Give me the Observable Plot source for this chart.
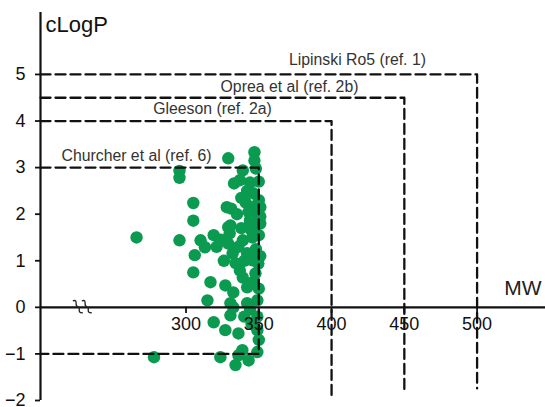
<!DOCTYPE html>
<html>
<head>
<meta charset="utf-8">
<script src="https://cdn.jsdelivr.net/npm/d3@7"></script>
<script src="https://cdn.jsdelivr.net/npm/@observablehq/plot@0.6"></script>
<style>
  html, body { margin: 0; padding: 0; background: #fff; }
</style>
</head>
<body>
<div id="chart"></div>
<script>
// Compound data: molecular weight and cLogP
const mw = [
  266, 278, 295.5, 295.5, 295.5, 305, 305, 305, 306, 310, 313, 314.7, 316.8, 319, 319, 323.6,
  329, 347, 347, 348, 339, 333, 337, 344, 346, 328, 331, 341, 345.6, 347.7, 351, 350,
  330.5, 329, 330, 344, 344, 345, 339, 345.6, 329, 332, 342, 345.6, 349.7, 348, 350, 351,
  327, 332.5, 330.5, 339, 342, 346, 342, 349, 337, 347.7, 350, 351, 326, 334, 340, 336,
  338, 335, 343, 342, 338, 350, 351, 324, 321,
  330.5, 332.5, 327, 336, 349, 349, 338.7, 336, 343, 334, 344, 349, 350, 345, 340
];
const clogp = [
  1.50, -1.07, 2.93, 2.78, 1.44, 2.24, 1.86, 0.75, 1.12, 1.44, 1.29, 0.15, 0.54, 1.55, -0.32, -1.07,
  3.20, 3.33, 3.15, 2.98, 2.94, 2.66, 2.73, 2.68, 2.45, 2.15, 2.12, 2.25, 2.15, 2.00, 2.15, 2.30,
  1.76, 1.72, 1.59, 1.87, 1.80, 1.65, 1.44, 1.50, 1.37, 1.16, 1.16, 1.01, 0.94, 1.25, 1.55, 1.80,
  0.47, 0.32, 0.09, 0.64, 0.43, 0.54, 0.09, 0.15, 0.79, 0.73, 0.40, 1.10, 1.00, 0.95, 1.00, 1.30,
  1.70, 2.00, 2.05, 2.50, 2.35, 2.70, 1.95, 1.45, 1.30,
  -0.17, 0.00, -0.49, -0.56, -0.49, -0.96, -0.92, -1.03, -1.14, -1.24, -0.05, -0.20, -0.70, -0.35, -0.20
];

// Property rule boxes
const ruleNames = ["Lipinski Ro5 (ref. 1)", "Oprea et al (ref. 2b)", "Gleeson (ref. 2a)", "Churcher et al (ref. 6)"];
const ruleMW = [500, 450, 400, 350];
const ruleLogP = [5, 4.5, 4, 3];
const ruleLow = [-1.74, -1.85, -1.97, -1];
const labelMW = [417.8, 371.1, 318.2, 266.0];
const labelLogP = [5.32, 4.74, 4.25, 3.24];

const xTicks = [300, 350, 400, 450, 500];
const yTicks = [-2, -1, 0, 1, 2, 3, 4, 5];

const xMin = 200, xMax = 547, yMin = -2, yMax = 6.33;

// Build rule paths
const rulePts = [];
ruleNames.forEach((name, i) => {
  rulePts.push({name, x: xMin, y: ruleLogP[i]});
  rulePts.push({name, x: ruleMW[i], y: ruleLogP[i]});
  rulePts.push({name, x: ruleMW[i], y: ruleLow[i]});
  if (ruleLow[i] > -1.5) rulePts.push({name, x: xMin, y: ruleLow[i]});
});

const font = "'Liberation Sans', Arial, Helvetica, sans-serif";

// axis break symbol (drawn via scales)
const breakMark = (index, scales, values, dimensions) => {
  const g = d3.create("svg:g");
  const cx0 = scales.x(226), cy = scales.y(0);
  [0, 9].forEach(o => {
    const cx = cx0 + o;
    g.append("path")
      .attr("d", `M${cx-5},${cy-6} C${cx+1},${cy-8} ${cx-4},${cy-1} ${cx},${cy} C${cx+4},${cy+1} ${cx-2},${cy+6} ${cx+5},${cy+6}`)
      .attr("fill", "none")
      .attr("stroke", "#222")
      .attr("stroke-width", 1.3);
  });
  return g.node();
};

const idx = d3.range(mw.length);

const chart = Plot.plot({
  width: 545,
  height: 407,
  marginLeft: 40,
  marginRight: 0,
  marginTop: 12,
  marginBottom: 7,
  style: {fontFamily: font, background: "#fff", color: "#111", overflow: "visible"},
  x: {domain: [xMin, xMax], axis: null},
  y: {domain: [yMin, yMax], axis: null},
  marks: [
    Plot.dot(idx, {x: i => mw[i], y: i => clogp[i], r: 6.2, fill: "#0a9a50", stroke: "none"}),
    Plot.line(rulePts, {x: "x", y: "y", z: "name", stroke: "#111", strokeWidth: 2.3, strokeDasharray: "10,5", curve: "linear"}),
    // axes lines
    Plot.ruleX([xMin], {y1: yMin, y2: yMax, stroke: "#111", strokeWidth: 2.2}),
    Plot.ruleY([0], {x1: xMin, x2: xMax, stroke: "#111", strokeWidth: 2.2}),
    // y ticks
    Plot.axisY(yTicks, {anchor: "left", tickSize: 5, tickPadding: 10, fontSize: 18, label: null, stroke: "#111", strokeWidth: 1.8}),
    // x ticks
    Plot.ruleX(xTicks, {x: d => d, y1: 0, y2: -0.13, stroke: "#111", strokeWidth: 1.8}),
    Plot.text(xTicks, {x: d => d, y: 0, dy: 17, text: d => String(d), fontSize: 18, fill: "#111"}),
    // rule labels
    Plot.text(ruleNames, {x: (d, i) => labelMW[i], y: (d, i) => labelLogP[i], text: d => d, fontSize: 15.8, fill: "#333"}),
    // axis titles
    Plot.text(["cLogP"], {x: 203.4, y: 6.07, text: d => d, textAnchor: "start", fontSize: 22, fill: "#111"}),
    Plot.text(["MW"], {x: 531.5, y: 0.41, text: d => d, fontSize: 21, fill: "#222"}),
    breakMark
  ]
});

document.getElementById("chart").appendChild(chart);
</script>
</body>
</html>
